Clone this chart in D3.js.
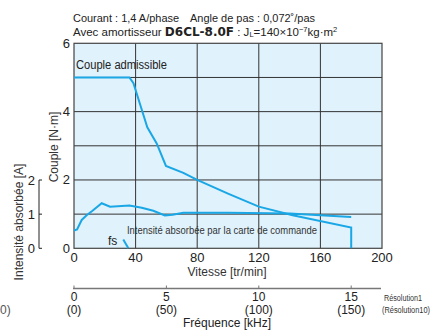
<!DOCTYPE html>
<html><head><meta charset="utf-8">
<script src="https://cdn.jsdelivr.net/npm/d3@7"></script>
<style>
body{margin:0;background:#fff;}
svg{display:block;font-family:"Liberation Sans Narrow","Liberation Sans",Arial,sans-serif;}
</style></head>
<body><svg id="c" width="436" height="334"></svg>
<script>
// Data
const torqueSpeed = [0, 36, 38.6, 43, 47.6, 53.7, 59.7, 71, 80, 100, 120, 142, 180, 180];
const torqueValues = [5, 5, 4.83, 4.2, 3.54, 3.07, 2.41, 2.21, 2.0, 1.6, 1.22, 0.97, 0.61, 0];
const currentSpeed = [0, 2, 5, 8.2, 12, 18, 23.4, 36, 44, 51.5, 59, 64, 71, 100, 140, 180];
const currentValues = [0.52, 0.55, 0.83, 0.97, 1.1, 1.32, 1.22, 1.25, 1.19, 1.10, 0.96, 0.98, 1.04, 1.04, 1.02, 0.92];
const fsSpeed = [32, 35.3];
const fsValues = [0.26, 0];
const speedTicks = [0, 40, 80, 120, 160, 200];
const torqueTicks = [0, 2, 4, 6];
const currentTicks = [0, 1, 2];
const freqTicks = [0, 5, 10, 15];
const freqTickLabels2 = ["(0)", "(50)", "(100)", "(150)"];

const svg = d3.select("#c");
const blue = "#1aa7e6";
const x = d3.scaleLinear().domain([0, 200]).range([74, 382]);
const y = d3.scaleLinear().domain([0, 6]).range([248.3, 43.3]);
const yI = d3.scaleLinear().domain([0, 2]).range([248.3, 180]);
const xf = d3.scaleLinear().domain([0, 15]).range([x(0), x(180)]);

// Title
svg.append("text").attr("x", 73).attr("y", 21.5).attr("font-size", 11.5).attr("fill", "#222")
  .attr("textLength", 242).attr("lengthAdjust", "spacingAndGlyphs")
  .text("Courant : 1,4 A/phase\u2003Angle de pas : 0,072˚/pas");
const t2 = svg.append("text").attr("y", 35.5).attr("font-size", 11.5).attr("fill", "#222");
t2.append("tspan").attr("x", 73).text("Avec amortisseur ");
t2.append("tspan").attr("font-weight", "bold").attr("font-family", "'DejaVu Sans',sans-serif").attr("font-size", 12).text("D6CL-8.0F");
t2.append("tspan").text(" : J");
t2.append("tspan").attr("font-size", 7.5).attr("dy", 1).text("L");
t2.append("tspan").attr("dy", -1).text("=140×10");
t2.append("tspan").attr("font-size", 7.5).attr("dy", -4).text("−7");
t2.append("tspan").attr("dy", 4).text("kg·m");
t2.append("tspan").attr("font-size", 7.5).attr("dy", -4).text("2");

// Plot background
svg.append("rect").attr("x", x(0)).attr("y", y(6)).attr("width", x(200) - x(0)).attr("height", y(0) - y(6))
  .attr("fill", "#e0f2fc");

// Grid
const g = svg.append("g").attr("stroke", "#333").attr("stroke-width", 1);
[1, 2, 3, 4, 5].forEach(v => g.append("line").attr("x1", x(0)).attr("x2", x(200)).attr("y1", y(v)).attr("y2", y(v)));
[40, 80, 120, 160].forEach(v => g.append("line").attr("x1", x(v)).attr("x2", x(v)).attr("y1", y(0)).attr("y2", y(6)));
svg.append("rect").attr("x", x(0)).attr("y", y(6)).attr("width", x(200) - x(0)).attr("height", y(0) - y(6))
  .attr("fill", "none").attr("stroke", "#444").attr("stroke-width", 1.2);

// Torque axis labels
svg.append("g").selectAll("text").data(torqueTicks).join("text")
  .attr("x", 70).attr("y", d => y(d) + 4.5).attr("text-anchor", "end").attr("font-size", 13).attr("fill", "#222").text(d => d);
// Speed axis labels
svg.append("g").selectAll("text").data(speedTicks).join("text")
  .attr("x", d => x(d)).attr("y", 262).attr("text-anchor", "middle").attr("font-size", 13).attr("fill", "#222").text(d => d);

// Current axis
const cx = 39;
svg.append("path").attr("d", `M${cx + 3},${yI(2)}H${cx}V${yI(0)}H${cx + 3}M${cx},${yI(1)}H${cx + 3}`)
  .attr("fill", "none").attr("stroke", "#222").attr("stroke-width", 1);
svg.append("g").selectAll("text").data(currentTicks).join("text")
  .attr("x", 35).attr("y", d => yI(d) + 4.5).attr("text-anchor", "end").attr("font-size", 13).attr("fill", "#222").text(d => d);

// Axis titles
svg.append("text").attr("transform", "translate(58,147) rotate(-90)").attr("text-anchor", "middle")
  .attr("font-size", 12).attr("fill", "#333").text("Couple [N·m]");
svg.append("text").attr("transform", "translate(23,222) rotate(-90)").attr("text-anchor", "middle")
  .attr("font-size", 12).attr("fill", "#333").text("Intensité absorbée [A]");
svg.append("text").attr("x", 227).attr("y", 276).attr("text-anchor", "middle")
  .attr("font-size", 12).attr("fill", "#333").text("Vitesse [tr/min]");

// Curves
const line = d3.line().x(d => x(d[0])).y(d => y(d[1]));
const lineI = d3.line().x(d => x(d[0])).y(d => yI(d[1]));
svg.append("path").attr("d", line(d3.zip(torqueSpeed, torqueValues))).attr("fill", "none").attr("stroke", blue).attr("stroke-width", 2);
svg.append("path").attr("d", lineI(d3.zip(currentSpeed, currentValues))).attr("fill", "none").attr("stroke", blue).attr("stroke-width", 2);
svg.append("path").attr("d", lineI(d3.zip(fsSpeed, fsValues))).attr("fill", "none").attr("stroke", blue).attr("stroke-width", 2);

// Curve labels
svg.append("text").attr("x", 76).attr("y", 68.5).attr("font-size", 12).attr("fill", "#222")
  .attr("textLength", 91).attr("lengthAdjust", "spacingAndGlyphs").text("Couple admissible");
svg.append("text").attr("x", 127).attr("y", 234).attr("font-size", 10.5).attr("fill", "#333")
  .attr("textLength", 190).attr("lengthAdjust", "spacingAndGlyphs").text("Intensité absorbée par la carte de commande");
svg.append("text").attr("x", 108).attr("y", 245).attr("font-size", 12).attr("fill", "#222").text("fs");

// Frequency axis
const fy = 288.5;
svg.append("line").attr("x1", 73).attr("x2", 381).attr("y1", fy).attr("y2", fy).attr("stroke", "#777").attr("stroke-width", 1.5);
svg.append("g").selectAll("line").data(freqTicks).join("line")
  .attr("x1", d => xf(d)).attr("x2", d => xf(d)).attr("y1", fy).attr("y2", fy - 3).attr("stroke", "#777");
svg.append("g").selectAll("text").data(freqTicks).join("text")
  .attr("x", d => xf(d)).attr("y", 301).attr("text-anchor", "middle").attr("font-size", 12).attr("fill", "#222").text(d => d);
svg.append("g").selectAll("text").data(freqTickLabels2).join("text")
  .attr("x", (d, i) => xf(freqTicks[i])).attr("y", 314).attr("text-anchor", "middle").attr("font-size", 12).attr("fill", "#222").text(d => d);
svg.append("text").attr("x", 384).attr("y", 301).attr("font-size", 8.5).attr("fill", "#333")
  .attr("textLength", 38).attr("lengthAdjust", "spacingAndGlyphs").text("Résolution1");
svg.append("text").attr("x", 382).attr("y", 313).attr("font-size", 8.5).attr("fill", "#333")
  .attr("textLength", 48).attr("lengthAdjust", "spacingAndGlyphs").text("(Résolution10)");
svg.append("text").attr("x", 227).attr("y", 327).attr("text-anchor", "middle")
  .attr("font-size", 12).attr("fill", "#222").text("Fréquence [kHz]");
// fragment visible at left edge
svg.append("text").attr("x", 0).attr("y", 314).attr("font-size", 12).attr("fill", "#555").text("0)");
</script></body></html>
